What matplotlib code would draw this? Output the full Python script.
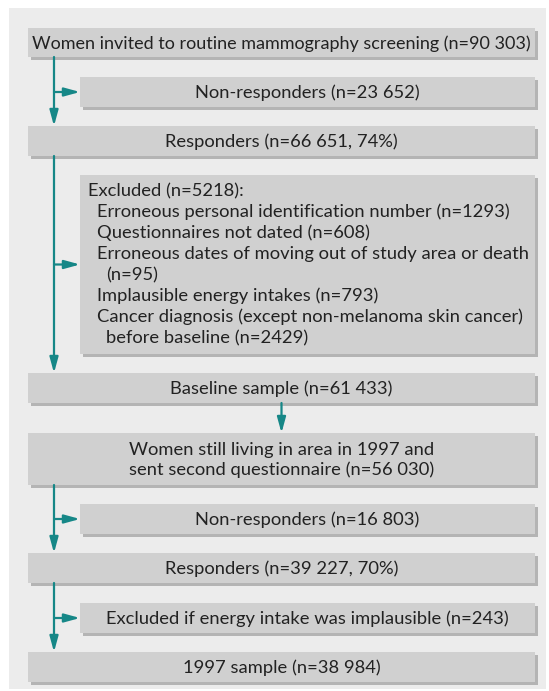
import matplotlib.pyplot as plt
from matplotlib.patches import Rectangle

# box texts, top to bottom
main_labels = [
    'Women invited to routine mammography screening (n=90 303)',
    'Responders (n=66 651, 74%)',
    'Baseline sample (n=61 433)',
    'Women still living in area in 1997 and\nsent second questionnaire (n=56 030)',
    'Responders (n=39 227, 70%)',
    '1997 sample (n=38 984)',
]
side_labels = [
    'Non-responders (n=23 652)',
    None,  # the excluded list box
    'Non-responders (n=16 803)',
    'Excluded if energy intake was implausible (n=243)',
]
excl_title = 'Excluded (n=5218):'
excl_items = [
    ('Erroneous personal identification number (n=1293)', 0),
    ('Questionnaires not dated (n=608)', 0),
    ('Erroneous dates of moving out of study area or death', 0),
    ('(n=95)', 1),
    ('Implausible energy intakes (n=793)', 0),
    ('Cancer diagnosis (except non-melanoma skin cancer)', 0),
    ('before baseline (n=2429)', 1),
]

# layout in pixels (top, bottom)
main_y = [(28, 57), (126, 156), (373, 403), (433, 485), (553, 583), (652, 682)]
side_y = [(77, 107), (175, 354), (504, 534), (603, 633)]
# which main box each side box hangs between (from, to)
side_links = [(0, 1), (1, 2), (3, 4), (4, 5)]

teal = '#168787'
box_c = '#d0d0d0'
shadow_c = '#b4b4b4'
panel_c = '#ececec'
txt_c = '#222222'
font = 'Lato'
fs = 13.2

main_x0, box_x1 = 28, 535
side_x0 = 80
trunk_x = 54

fig = plt.figure(figsize=(5.49, 6.91), dpi=100)
ax = fig.add_axes([0, 0, 1, 1])
ax.set_xlim(0, 549)
ax.set_ylim(691, 0)
ax.axis('off')

ax.add_patch(Rectangle((9, 8), 537, 681, color=panel_c, lw=0))


def box(x0, y0, x1, y1):
    ax.add_patch(Rectangle((x0 + 3, y0 + 3), x1 - x0, y1 - y0, color=shadow_c, lw=0))
    ax.add_patch(Rectangle((x0, y0), x1 - x0, y1 - y0, color=box_c, lw=0))


def arrow(x0, y0, x1, y1):
    ax.annotate('', xy=(x1, y1), xytext=(x0, y0),
                arrowprops=dict(arrowstyle='-|>,head_width=0.17,head_length=0.62',
                                color=teal, lw=1.6,
                                mutation_scale=15, shrinkA=0, shrinkB=0))


for i, ((y0, y1), lab) in enumerate(zip(main_y, main_labels)):
    box(main_x0, y0, box_x1, y1)
    ax.text((main_x0 + box_x1) / 2, (y0 + y1) / 2 + 1, lab, ha='center', va='center',
            fontsize=12.95 if i == 0 else fs, family=font, color=txt_c, linespacing=1.2)

for (y0, y1), lab in zip(side_y, side_labels):
    box(side_x0, y0, box_x1, y1)
    if lab:
        ax.text((side_x0 + box_x1) / 2, (y0 + y1) / 2 + 1, lab, ha='center', va='center',
                fontsize=fs, family=font, color=txt_c)

# excluded list
ax.text(88, 196, excl_title, ha='left', va='baseline', fontsize=fs, family=font, color=txt_c)
for i, (line, indent) in enumerate(excl_items):
    ax.text(97 + 9 * indent, 217 + 21 * i, line, ha='left', va='baseline',
            fontsize=fs, family=font, color=txt_c)

# trunk arrows with side branches
for (a, b), (sy0, sy1) in zip(side_links, side_y):
    arrow(trunk_x, main_y[a][1], trunk_x, main_y[b][0])
    ym = (sy0 + sy1) / 2
    arrow(trunk_x, ym, side_x0, ym)

# straight arrow baseline -> second questionnaire
cx = (main_x0 + box_x1) / 2
arrow(cx, main_y[2][1], cx, main_y[3][0])

fig.savefig('out.png', dpi=100)
